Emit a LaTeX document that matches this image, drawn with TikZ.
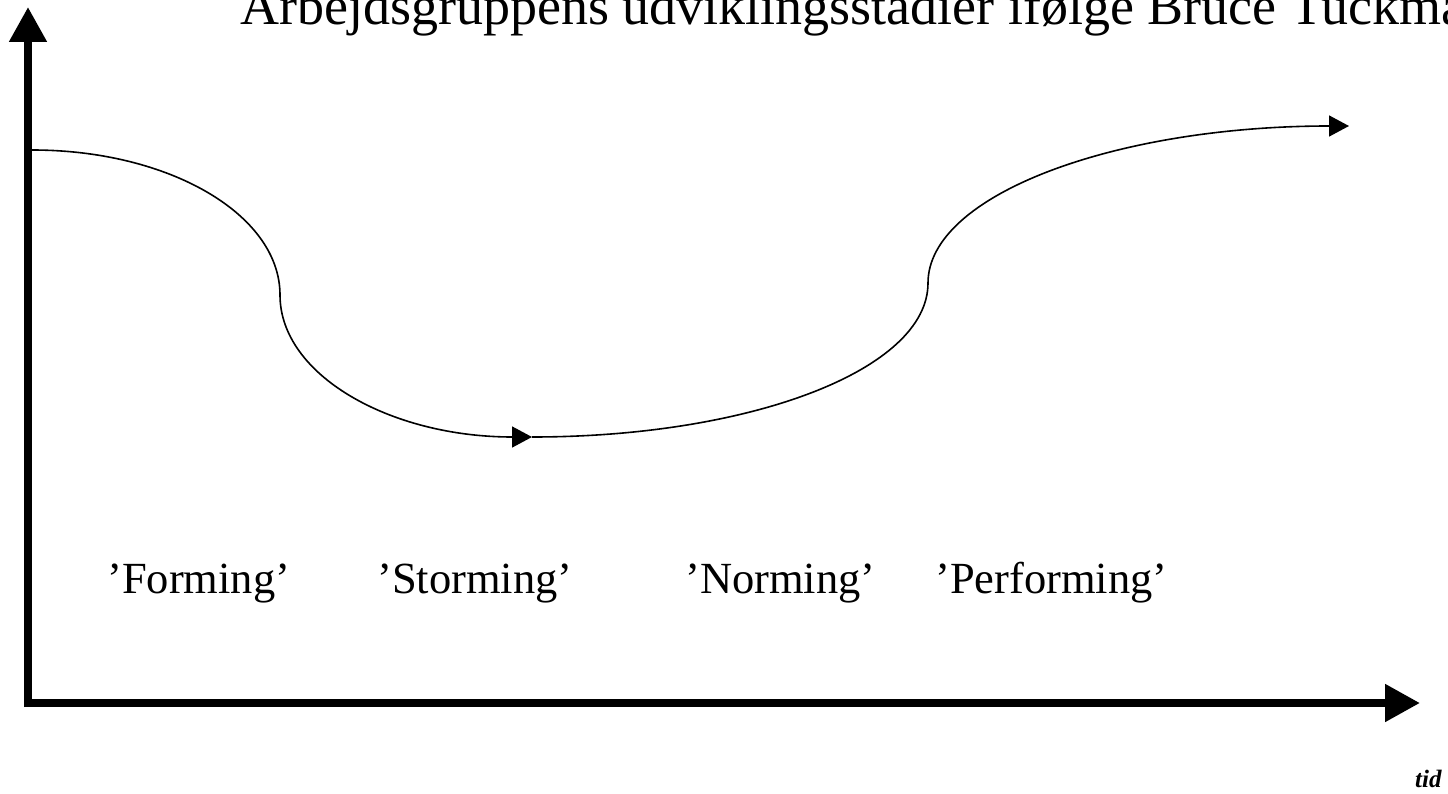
\documentclass[tikz,border=0pt]{standalone}
\usepackage{fontspec}
\setmainfont{Liberation Serif}
\usetikzlibrary{arrows.meta}
\tikzset{
  axis/.style={line width=8pt, -{Triangle[length=35pt,width=36pt]}},
  curve/.style={line width=1.6pt, -{Triangle[length=20pt,width=21pt]}},
  stage/.style={anchor=base west, inner sep=0pt, font=\fontsize{44.5}{50}\selectfont},
  titletext/.style={anchor=base west, inner sep=0pt, font=\fontsize{54}{60}\selectfont},
  timelabel/.style={anchor=base west, inner sep=0pt, font=\fontsize{25}{28}\selectfont\bfseries\itshape}
}
\begin{document}
\begin{tikzpicture}[x=1pt,y=-1pt]
\useasboundingbox (0,0) rectangle (1448,794);
\clip (0,0) rectangle (1448,794);
\node[titletext] (title) at (240,25) {Arbejdsgruppens udviklingsstadier ifølge Bruce Tuckman};
% axes
\coordinate (origin) at (28,703);
\coordinate (ytop) at (28,7);
\coordinate (xend) at (1420,703);
\draw[axis] ([yshift=-4pt]origin) -- (ytop);
\draw[axis] ([xshift=-4pt]origin) -- (xend);
% curve points
\coordinate (p0) at (32,150);
\coordinate (p1) at (280,295);
\coordinate (p2) at (532,437);
\coordinate (p3) at (928,283);
\coordinate (p4) at (1349,126);
\draw[curve] (p0) .. controls (170,150) and (280,215) .. (p1)
  .. controls (280,375) and (390,437) .. (p2);
\draw[curve] (p2) .. controls (750,437) and (928,370) .. (p3)
  .. controls (928,195) and (1115,126) .. (p4);
% labels
\node[stage] (forming) at (107,593) {'Forming'};
\node[stage] (storming) at (377,593) {'Storming'};
\node[stage] (norming) at (685,593) {'Norming'};
\node[stage] (performing) at (935,593) {'Performing'};
\node[timelabel] (tid) at (1415,787) {tid};
\end{tikzpicture}
\end{document}
